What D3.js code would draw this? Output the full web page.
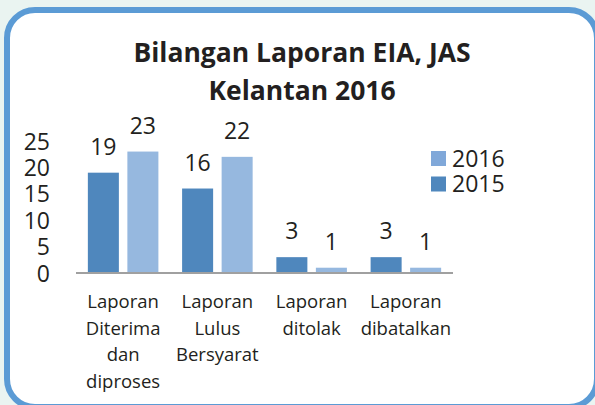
<!DOCTYPE html>
<html><head><meta charset="utf-8">
<script src="https://cdn.jsdelivr.net/npm/d3@7"></script>
<style>
html,body{margin:0;padding:0;background:#eaf4f1;}
svg{display:block;}
text{font-family:"Open Sans",sans-serif;fill:#231f20;}
</style></head>
<body><svg id="c" width="595" height="405"></svg>
<script>
const categories = ["Laporan\nDiterima\ndan\ndiproses","Laporan\nLulus\nBersyarat","Laporan\nditolak","Laporan\ndibatalkan"];
const seriesNames = ["2015","2016"];
const values2015 = [19,16,3,3];
const values2016 = [23,22,1,1];
const yTicks = [0,5,10,15,20,25];
const titleLines = ["Bilangan Laporan EIA, JAS","Kelantan 2016"];

const svg = d3.select("#c");
const colors = {"2015":"#4f87bd","2016":"#96b8df"};
const legendColors = {"2015":"#4f87bd","2016":"#80a8d9"};

svg.append("rect").attr("x",7).attr("y",10).attr("width",590).attr("height",397)
  .attr("rx",28).attr("fill","#fff").attr("stroke","#5b9bd5").attr("stroke-width",6);

const title = svg.append("text").attr("text-anchor","middle").attr("font-weight","bold").attr("font-size",26.5);
titleLines.forEach((t,i)=>title.append("tspan").attr("x",302).attr("y",62+i*38).text(t));

const x = d3.scaleBand().domain(categories).range([76,453]).paddingInner(0).paddingOuter(0);
const xs = d3.scaleBand().domain(seriesNames).range([0,x.bandwidth()]).paddingInner(0.215).paddingOuter(0.3);
const y = d3.scaleLinear().domain([0,25]).range([273,141]);

const data = categories.map((c,i)=>({cat:c, vals:[{s:"2015",v:values2015[i]},{s:"2016",v:values2016[i]}]}));

const g = svg.append("g").selectAll("g").data(data).join("g").attr("transform",d=>`translate(${x(d.cat)},0)`);
g.selectAll("rect").data(d=>d.vals).join("rect")
  .attr("x",d=>xs(d.s)).attr("width",xs.bandwidth())
  .attr("y",d=>y(d.v)).attr("height",d=>y(0)-y(d.v))
  .attr("fill",d=>colors[d.s]);
g.selectAll("text.v").data(d=>d.vals).join("text").attr("class","v")
  .attr("x",d=>xs(d.s)+xs.bandwidth()/2).attr("y",d=>y(d.v)-18)
  .attr("text-anchor","middle").attr("font-size",23).text(d=>d.v);

// baseline
svg.append("line").attr("x1",x.range()[0]).attr("x2",x.range()[1]).attr("y1",y(0)).attr("y2",y(0))
  .attr("stroke","#a0a0a0").attr("stroke-width",2);

// y axis
const ya = svg.append("g").attr("transform","translate(50,0)")
  .call(d3.axisLeft(y).tickValues(yTicks).tickSize(0).tickPadding(0));
ya.select(".domain").remove();
ya.selectAll("text").attr("font-size",23).attr("font-family","Open Sans").attr("fill","#231f20").attr("dy","0.35em");

// x labels
const xl = svg.append("g").selectAll("text").data(categories).join("text")
  .attr("text-anchor","middle").attr("font-size",18.5);
xl.each(function(c){
  const t=d3.select(this);
  c.split("\n").forEach((l,i)=>t.append("tspan").attr("x",x(c)+x.bandwidth()/2).attr("y",308+i*26.5).text(l));
});

// legend
const legendOrder = ["2016","2015"];
const lg = svg.append("g").selectAll("g").data(legendOrder).join("g")
  .attr("transform",(d,i)=>`translate(431,${151+i*25.5})`);
lg.append("rect").attr("width",15).attr("height",15).attr("fill",d=>legendColors[d]);
lg.append("text").attr("x",21).attr("y",7.5).attr("dy","0.35em").attr("font-size",23).text(d=>d);
</script></body></html>
